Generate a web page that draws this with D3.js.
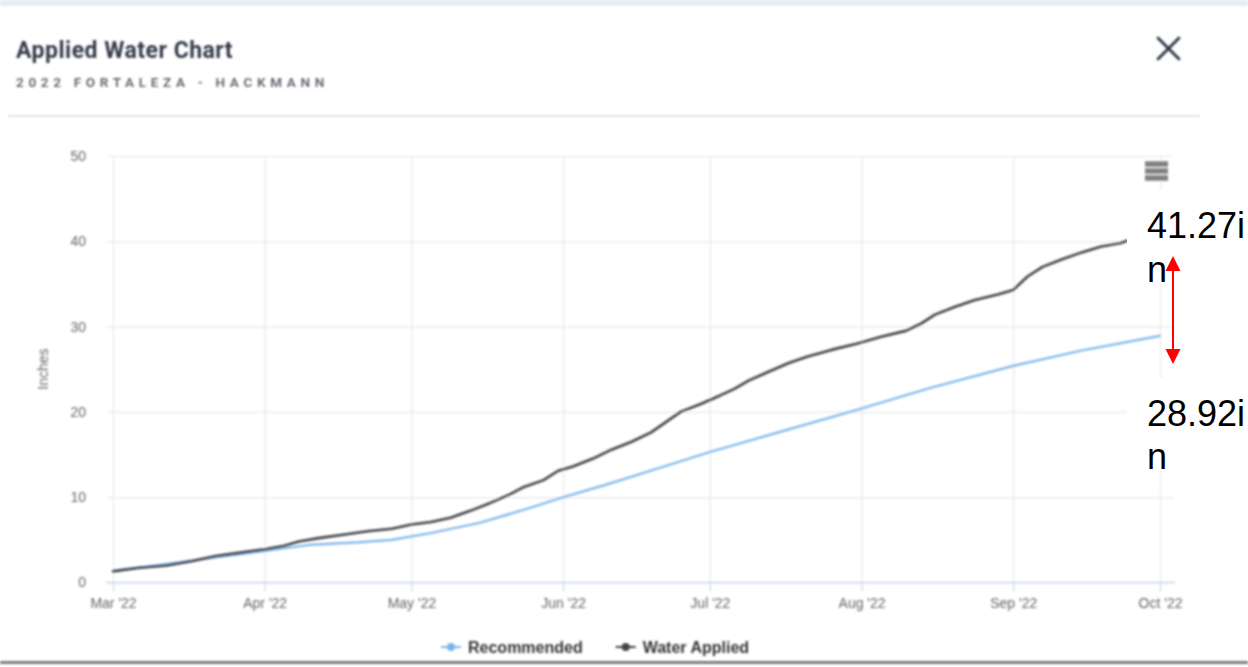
<!DOCTYPE html>
<html>
<head>
<meta charset="utf-8">
<title>Applied Water Chart</title>
<script src="https://cdn.jsdelivr.net/npm/d3@7"></script>
<style>
  html, body { margin: 0; padding: 0; background: #ffffff; }
  svg { display: block; }
</style>
</head>
<body>
<svg id="chart" width="1248" height="667"></svg>
<script>
// ---- chart data -------------------------------------------------------
const chartTitle = "Applied Water Chart";
const chartSubtitle = "2022 FORTALEZA - HACKMANN";
const yAxisTitle = "Inches";
const seriesNames = ["Recommended", "Water Applied"];
const monthTicks = ["2022-03-01", "2022-04-01", "2022-05-01", "2022-06-01",
                    "2022-07-01", "2022-08-01", "2022-09-01", "2022-10-01"];
const yTicks = [0, 10, 20, 30, 40, 50];

// cumulative recommended water (inches)
const recommendedDates = ["2022-03-01", "2022-03-10", "2022-03-20", "2022-04-01", "2022-04-10",
                          "2022-04-20", "2022-04-27", "2022-05-05", "2022-05-15", "2022-05-25",
                          "2022-06-01", "2022-06-10", "2022-06-20", "2022-07-01", "2022-07-15",
                          "2022-08-01", "2022-08-15", "2022-09-01", "2022-09-15", "2022-10-01"];
const recommendedValues = [1.4, 2.0, 2.8, 3.7, 4.4,
                           4.7, 5.0, 5.8, 7.0, 8.7,
                           10.0, 11.5, 13.3, 15.3, 17.6,
                           20.4, 22.8, 25.4, 27.2, 28.92];

// cumulative applied water (inches)
const appliedDates = ["2022-03-01", "2022-03-06", "2022-03-12", "2022-03-17", "2022-03-22",
                      "2022-03-27", "2022-04-01", "2022-04-05", "2022-04-08", "2022-04-12",
                      "2022-04-17", "2022-04-22", "2022-04-27", "2022-05-01", "2022-05-05",
                      "2022-05-09", "2022-05-13", "2022-05-17", "2022-05-21", "2022-05-24",
                      "2022-05-28", "2022-05-31", "2022-06-03", "2022-06-07", "2022-06-11",
                      "2022-06-15", "2022-06-19", "2022-06-22", "2022-06-25", "2022-06-29",
                      "2022-07-03", "2022-07-06", "2022-07-09", "2022-07-13", "2022-07-17",
                      "2022-07-21", "2022-07-26", "2022-07-31", "2022-08-05", "2022-08-10",
                      "2022-08-13", "2022-08-16", "2022-08-20", "2022-08-24", "2022-08-29",
                      "2022-09-01", "2022-09-04", "2022-09-07", "2022-09-11", "2022-09-15",
                      "2022-09-19", "2022-09-23", "2022-09-26", "2022-10-01"];
const appliedValues = [1.3, 1.7, 2.0, 2.5, 3.1,
                       3.5, 3.9, 4.3, 4.8, 5.2,
                       5.6, 6.0, 6.3, 6.8, 7.1,
                       7.6, 8.4, 9.3, 10.3, 11.2,
                       12.0, 13.1, 13.6, 14.5, 15.6,
                       16.5, 17.6, 18.8, 20.0, 20.9,
                       21.9, 22.7, 23.7, 24.7, 25.7,
                       26.5, 27.3, 28.0, 28.8, 29.5,
                       30.3, 31.4, 32.3, 33.1, 33.8,
                       34.3, 35.9, 37.0, 37.9, 38.7,
                       39.4, 39.8, 40.4, 41.27];

// ---- setup ------------------------------------------------------------
const W = 1248, H = 667;
const parseDate = d3.timeParse("%Y-%m-%d");
const plot = { left: 107, right: 1174, top: 156, bottom: 582.5 };
const colors = { recommended: "#7cb5ec", applied: "#434348" };
const chartFont = "'Liberation Sans', Arial, sans-serif";

const x = d3.scaleTime()
  .domain([parseDate(monthTicks[0]), parseDate(monthTicks[monthTicks.length - 1])])
  .range([113, 1160]);
const y = d3.scaleLinear().domain([0, 50]).range([plot.bottom, plot.top]);

const svg = d3.select("#chart");
const defs = svg.append("defs");
defs.append("filter").attr("id", "soft")
  .attr("filterUnits", "userSpaceOnUse")
  .attr("x", 0).attr("y", 0).attr("width", W).attr("height", H)
  .append("feGaussianBlur").attr("stdDeviation", 1.0);

svg.append("rect").attr("width", W).attr("height", H).attr("fill", "#ffffff");

const base = svg.append("g").attr("filter", "url(#soft)");

// page chrome
base.append("rect").attr("x", 0).attr("y", 0).attr("width", W).attr("height", 6).attr("fill", "#e6edf7");
base.append("text").attr("x", 16).attr("y", 58)
  .attr("font-family", "Roboto, sans-serif").attr("font-weight", 700).attr("font-size", 23)
  .attr("letter-spacing", "0.5px").attr("fill", "#343b4a").text(chartTitle);
base.append("text").attr("x", 16).attr("y", 87)
  .attr("font-family", "Roboto, sans-serif").attr("font-weight", 600).attr("font-size", 13.5)
  .attr("letter-spacing", "4.7px").attr("fill", "#5d626a").text(chartSubtitle);
const closeBtn = base.append("g").attr("stroke", "#2f3542").attr("stroke-width", 2.8).attr("stroke-linecap", "round");
closeBtn.append("line").attr("x1", 1158).attr("y1", 38).attr("x2", 1179).attr("y2", 59);
closeBtn.append("line").attr("x1", 1179).attr("y1", 38).attr("x2", 1158).attr("y2", 59);
base.append("line").attr("x1", 8).attr("x2", 1200).attr("y1", 116).attr("y2", 116)
  .attr("stroke", "#e3e3e3").attr("stroke-width", 2);
base.append("rect").attr("x", 0).attr("y", 661).attr("width", W).attr("height", 3).attr("fill", "#7d7d7d");

// vertical month grid
base.append("g").attr("transform", `translate(0,${plot.bottom})`)
  .call(d3.axisBottom(x).tickValues(monthTicks.map(parseDate)).tickSize(-(plot.bottom - plot.top)).tickFormat(""))
  .call(g => g.select(".domain").remove())
  .call(g => g.selectAll(".tick line").attr("stroke", "#e6e8ef").attr("stroke-width", 1.2));

// horizontal value grid + y labels
base.append("g").attr("transform", `translate(${plot.left},0)`)
  .call(d3.axisLeft(y).tickValues(yTicks).tickSize(-(plot.right - plot.left)).tickPadding(21))
  .call(g => g.select(".domain").remove())
  .call(g => g.selectAll(".tick line").attr("stroke", "#e8e8e8").attr("stroke-width", 1.2))
  .call(g => g.selectAll(".tick text").attr("fill", "#666666")
    .attr("font-family", chartFont).attr("font-size", 14));

// x axis line, ticks and month labels
const xAxis = base.append("g").attr("transform", `translate(0,${plot.bottom})`)
  .call(d3.axisBottom(x).tickValues(monthTicks.map(parseDate)).tickSize(9).tickPadding(7)
    .tickFormat(d3.timeFormat("%b '%y")))
  .call(g => g.select(".domain").remove())
  .call(g => g.selectAll(".tick line").attr("stroke", "#ccd6eb").attr("stroke-width", 1.2))
  .call(g => g.selectAll(".tick text").attr("fill", "#666666")
    .attr("font-family", chartFont).attr("font-size", 14));
xAxis.append("line").attr("x1", plot.left - 1).attr("x2", plot.right + 1).attr("y1", 0).attr("y2", 0)
  .attr("stroke", "#ccd6eb").attr("stroke-width", 1.5);

// y axis title
base.append("text")
  .attr("transform", `translate(48,369) rotate(-90)`)
  .attr("text-anchor", "middle")
  .attr("font-family", chartFont).attr("font-size", 14).attr("fill", "#666666")
  .text(yAxisTitle);

// series lines
const line = d3.line().x(d => x(d.date)).y(d => y(d.value));
const recommended = recommendedDates.map((d, i) => ({ date: parseDate(d), value: recommendedValues[i] }));
const applied = appliedDates.map((d, i) => ({ date: parseDate(d), value: appliedValues[i] }));
base.append("path").datum(recommended).attr("d", line)
  .attr("fill", "none").attr("stroke", colors.recommended).attr("stroke-width", 2.2)
  .attr("stroke-linejoin", "round").attr("stroke-linecap", "round");
base.append("path").datum(applied).attr("d", line)
  .attr("fill", "none").attr("stroke", colors.applied).attr("stroke-width", 2.6)
  .attr("stroke-linejoin", "round").attr("stroke-linecap", "round");

// export menu button
const menu = base.append("g").attr("stroke", "#808080").attr("stroke-width", 5.5);
[164, 171, 178].forEach(yy => menu.append("line").attr("x1", 1145).attr("x2", 1168).attr("y1", yy).attr("y2", yy));

// legend
const legend = base.append("g").attr("transform", "translate(441,647)");
let lx = 0;
[[seriesNames[0], colors.recommended], [seriesNames[1], colors.applied]].forEach(([name, c]) => {
  const item = legend.append("g").attr("transform", `translate(${lx},0)`);
  item.append("line").attr("x1", 0).attr("x2", 20).attr("y1", 0).attr("y2", 0)
    .attr("stroke", c).attr("stroke-width", 2);
  item.append("circle").attr("cx", 10).attr("cy", 0).attr("r", 4).attr("fill", c);
  const t = item.append("text").attr("x", 27).attr("y", 5.7)
    .attr("font-family", chartFont).attr("font-weight", 700).attr("font-size", 16)
    .attr("fill", "#333333").text(name);
  lx += 27 + t.node().getComputedTextLength() + 33;
});

// ---- end-of-season totals with difference arrow -----------------------
const note = svg.append("g");
const fmt = d3.format(".2f");
const totals = [
  { label: fmt(appliedValues[appliedValues.length - 1]) + "in", top: 190, baseline: 238.3 },
  { label: fmt(recommendedValues[recommendedValues.length - 1]) + "in", top: 378, baseline: 425.7 }
];
totals.forEach(t => {
  note.append("rect").attr("x", 1127).attr("y", t.top).attr("width", W - 1127).attr("height", 93)
    .attr("fill", "#ffffff");
  const txt = note.append("text").attr("font-family", "'Liberation Sans', Arial, sans-serif")
    .attr("font-size", 36).attr("fill", "#000000");
  txt.append("tspan").attr("x", 1147).attr("y", t.baseline).text(t.label.slice(0, -1));
  txt.append("tspan").attr("x", 1147).attr("y", t.baseline + 43.3).text(t.label.slice(-1));
});
const ax = 1173, aTop = 256, aBot = 364;
note.append("line").attr("x1", ax).attr("x2", ax).attr("y1", aTop + 10).attr("y2", aBot - 10)
  .attr("stroke", "#ff0000").attr("stroke-width", 2);
note.append("path").attr("d", `M${ax},${aTop} L${ax - 7.5},${aTop + 15} L${ax + 7.5},${aTop + 15} Z`).attr("fill", "#ff0000");
note.append("path").attr("d", `M${ax},${aBot} L${ax - 7.5},${aBot - 15} L${ax + 7.5},${aBot - 15} Z`).attr("fill", "#ff0000");
</script>
</body>
</html>
